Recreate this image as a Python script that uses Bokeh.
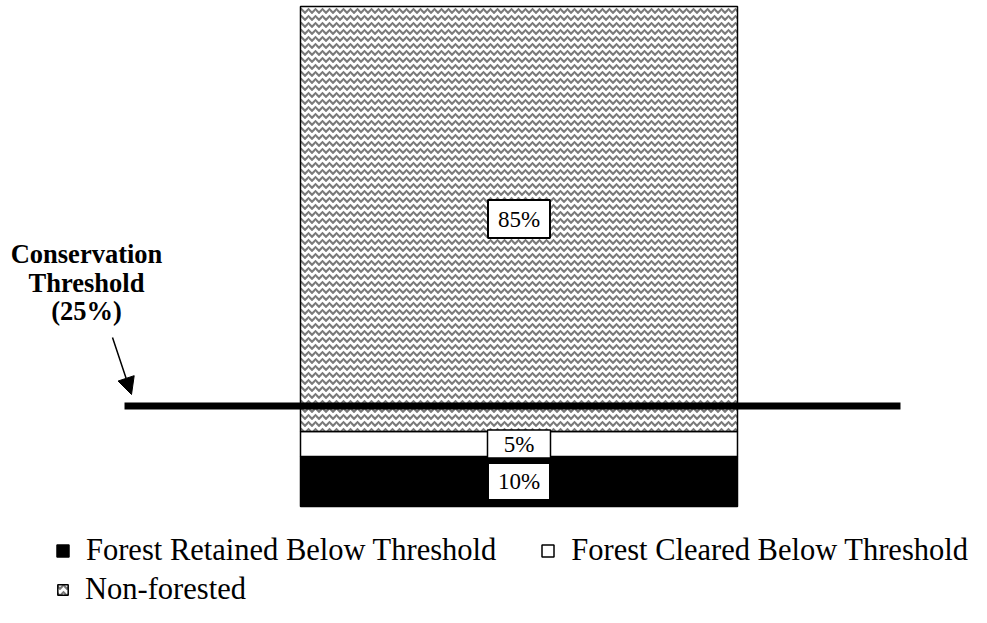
from bokeh.plotting import figure
from bokeh.models import (ColumnDataSource, Range1d, Legend, LegendItem, Label,
                          Arrow, NormalHead)
from bokeh.core.properties import value
from bokeh.embed import file_html
from bokeh.resources import INLINE

# ---------------- data ----------------
categories = ["Forest Retained Below Threshold",
              "Forest Cleared Below Threshold",
              "Non-forested"]
shares = [10, 5, 85]
share_labels = ["10%", "5%", "85%"]
threshold_level = 20.1
threshold_text = ["Conservation", "Threshold", "(25%)"]

# ---------------- styles ----------------
fills = ["black", "white", "white"]
hatches = [None, None, "horizontal_wave"]
box_w = [60, 63, 62]
box_h = [35, 28, 38]
box_line = [0, 1.5, 2]

SERIF = "Liberation Serif"
W, H = 971, 607

bottoms, tops, mids = [], [], []
acc = 0
for s in shares:
    bottoms.append(acc)
    tops.append(acc + s)
    mids.append(acc + s / 2)
    acc += s

p = figure(width=W, height=H, x_range=Range1d(-1.1865, 1.0355),
           y_range=Range1d(-20.2, 101.2), x_axis_type=None, y_axis_type=None,
           toolbar_location=None, output_backend="svg", min_border=0,
           outline_line_color=None, background_fill_color="white")

renderers = []
for i, cat in enumerate(categories):
    src = ColumnDataSource(dict(x=[0], bottom=[bottoms[i]], top=[tops[i]]))
    kw = dict(fill_color=fills[i], line_color="black", line_width=1.5)
    if hatches[i]:
        kw.update(hatch_pattern=hatches[i], hatch_color="#7a7a7a",
                  hatch_scale=7, hatch_weight=2.2)
    r = p.vbar(x="x", bottom="bottom", top="top", width=1.0, source=src, **kw)
    renderers.append(r)

# threshold line
p.line(x=[-0.9027, 0.873], y=[threshold_level, threshold_level],
       line_width=7, line_color="black", line_cap="butt")

# value boxes & labels
lab_src = ColumnDataSource(dict(x=[0] * 3, y=mids, text=share_labels,
                                w=box_w, h=box_h, lw=box_line))
p.rect(x="x", y="y", width="w", height="h", width_units="screen",
       height_units="screen", fill_color="white", line_color="black",
       line_width="lw", source=lab_src)
p.text(x="x", y="y", text="text", text_align="center", text_baseline="middle",
       text_font=value(SERIF), text_font_size="23px", text_color="black",
       source=lab_src)

# annotation
for t, yb in zip(threshold_text, [354, 325, 297]):
    p.add_layout(Label(x=86, y=yb, x_units="screen", y_units="screen", text=t,
                       text_align="center", text_baseline="alphabetic",
                       text_font=SERIF, text_font_style="bold",
                       text_font_size="26.5px", text_color="black"))
p.add_layout(Arrow(end=NormalHead(size=17, fill_color="black", line_color="black"),
                   x_start=112, y_start=270, x_end=131, y_end=213,
                   start_units="screen", end_units="screen",
                   line_width=1.5, line_color="black"))

common = dict(label_text_font=SERIF, label_text_font_size="30.5px",
              label_text_color="black", padding=0, margin=0,
              border_line_color=None, background_fill_alpha=0,
              label_standoff=16)
leg1 = Legend(items=[LegendItem(label=categories[0], renderers=[renderers[0]]),
                     LegendItem(label=categories[1], renderers=[renderers[1]])],
              orientation="horizontal", location=(55, 39.5), spacing=44,
              glyph_width=15, glyph_height=15, **common)
leg2 = Legend(items=[LegendItem(label=categories[2], renderers=[renderers[2]])],
              orientation="horizontal", location=(56, 0),
              glyph_width=13, glyph_height=13, **common)
p.add_layout(leg1)
p.add_layout(leg2)

open("out.html", "w").write(file_html(p, INLINE))
